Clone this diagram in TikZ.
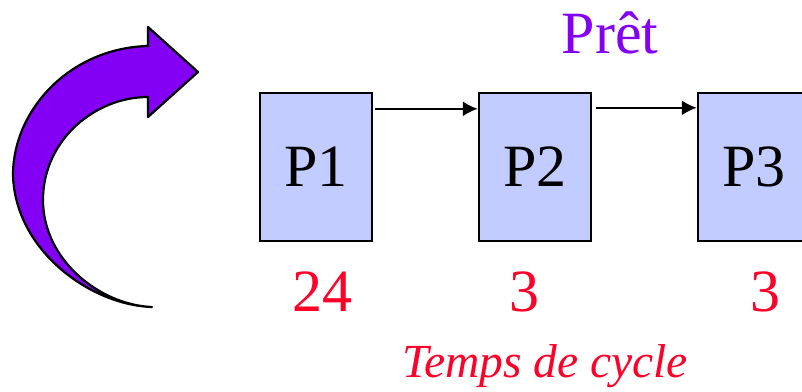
\documentclass[tikz,border=0pt]{standalone}
\usepackage{fontspec}
\setmainfont{Liberation Serif}
\usetikzlibrary{arrows.meta, positioning}
\definecolor{procblue}{RGB}{194,204,255}
\definecolor{readyviolet}{RGB}{132,0,245}
\definecolor{cyclered}{RGB}{255,0,40}

\begin{document}
\begin{tikzpicture}[
    x=1pt, y=-1pt,
    proc/.style={draw, line width=2.4pt, fill=procblue, minimum width=112pt, minimum height=148pt, inner sep=0pt, font=\fontsize{60}{72}\selectfont},
    arrow/.style={-{Latex[length=15pt, width=15pt]}, line width=2pt},
    burst/.style={text=cyclered, anchor=base, font=\fontsize{60}{72}\selectfont}
]
    \useasboundingbox (0,0) rectangle (802,391);

    % Curved arrow
    \draw[line width=2.2pt, fill=readyviolet, line join=round]
        (148,46) .. controls (70,48) and (13,110) .. (13,175)
        .. controls (15,250) and (90,305) .. (152,307)
        .. controls (100,305) and (43,260) .. (43,200)
        .. controls (43,140) and (95,97) .. (148,97)
        -- (148,117) -- (198,72) -- (148,27) -- cycle;

    % Ready queue
    \node[proc] (p1) at (316,167) {P1};
    \node[proc] (p2) at (535,167) {P2};
    \node[proc] (p3) at (754,167) {P3};

    \draw[arrow, shorten <=2pt] ([yshift=-17pt]p1.north east) -- ([yshift=-17pt]p2.north west);
    \draw[arrow, shorten <=4pt] ([yshift=-16pt]p2.north east) -- ([yshift=-16pt]p3.north west);

    % Labels
    \node[anchor=base, text=readyviolet, font=\fontsize{60}{72}\selectfont] (ready) at (610,53) {Prêt};

    % Cycle times
    \node[burst] (t1) at (322,311) {24};
    \node[burst] (t2) at (524,311) {3};
    \node[burst] (t3) at (765,311) {3};
    \node[anchor=base, text=cyclered, font=\fontsize{47.5}{57}\selectfont\itshape] (cycle) at (545,377) {Temps de cycle};
\end{tikzpicture}
\end{document}
